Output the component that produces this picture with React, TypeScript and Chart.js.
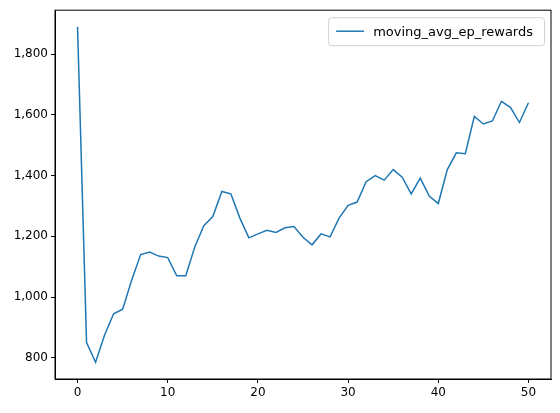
import { useEffect, useRef } from 'react'
import { Chart, registerables } from 'chart.js'

Chart.register(...registerables)

const episodes = Array.from({ length: 51 }, (_, i) => i)
const movingAvg = [
  1890, 850, 785, 875, 945, 960, 1055, 1140, 1148, 1135, 1130, 1070, 1070, 1165, 1235, 1265, 1348,
  1340, 1260, 1195, 1208, 1220, 1213, 1228, 1232, 1197, 1172, 1208, 1198, 1260, 1302, 1313, 1380,
  1400, 1385, 1420, 1395, 1340, 1392, 1333, 1308, 1420, 1475, 1472, 1595, 1570, 1580, 1645, 1625,
  1575, 1640,
]
const xTicks = [0, 10, 20, 30, 40, 50]
const yTicks = [800, 1000, 1200, 1400, 1600, 1800]
const seriesLabel = 'moving_avg_ep_rewards'
const lineColor = '#1f77b4'
const font = 'DejaVu Sans'

// matplotlib-style legend in the top right corner of the plot area
const boxLegend = {
  id: 'boxLegend',
  afterDraw(chart: Chart) {
    const { ctx, chartArea } = chart
    ctx.save()
    ctx.font = `13px "${font}"`
    const tw = ctx.measureText(seriesLabel).width
    const w = tw + 56
    const h = 28
    const x = chartArea.right - w - 7
    const y = chartArea.top + 7
    ctx.fillStyle = 'rgba(255,255,255,0.8)'
    ctx.strokeStyle = '#d0d0d0'
    ctx.lineWidth = 1
    ctx.beginPath()
    ctx.roundRect(x + 0.5, y + 0.5, w, h, 3)
    ctx.fill()
    ctx.stroke()
    ctx.strokeStyle = lineColor
    ctx.lineWidth = 1.5
    ctx.beginPath()
    ctx.moveTo(x + 8, y + h / 2)
    ctx.lineTo(x + 36, y + h / 2)
    ctx.stroke()
    ctx.fillStyle = '#000'
    ctx.textBaseline = 'middle'
    ctx.fillText(seriesLabel, x + 45, y + h / 2 + 1)
    ctx.restore()
  },
}

export default function App() {
  const canvasRef = useRef<HTMLCanvasElement>(null)

  useEffect(() => {
    if (!canvasRef.current) return
    const chart = new Chart(canvasRef.current, {
      type: 'line',
      data: {
        datasets: [
          {
            label: seriesLabel,
            data: episodes.map((e, i) => ({ x: e, y: movingAvg[i] })),
            borderColor: lineColor,
            borderWidth: 1.5,
            pointRadius: 0,
            tension: 0,
          },
        ],
      },
      options: {
        responsive: false,
        animation: false,
        layout: { padding: { top: 10, right: 9, left: 0, bottom: 0 } },
        plugins: { legend: { display: false }, tooltip: { enabled: false } },
        scales: {
          x: {
            type: 'linear',
            min: -2.5,
            max: 52.5,
            afterBuildTicks: (s: any) => { s.ticks = xTicks.map((v) => ({ value: v })) },
            afterFit: (s: any) => { s.height = 34 },
            grid: { drawOnChartArea: false, tickLength: 4, color: '#000' },
            border: { color: '#000', width: 1 },
            ticks: { color: '#000', font: { family: font, size: 12 }, padding: 3, maxRotation: 0 },
          },
          y: {
            min: 730,
            max: 1945,
            afterBuildTicks: (s: any) => { s.ticks = yTicks.map((v) => ({ value: v })) },
            afterFit: (s: any) => { s.width = 55 },
            grid: { drawOnChartArea: false, tickLength: 4, color: '#000' },
            border: { color: '#000', width: 1 },
            ticks: { color: '#000', font: { family: font, size: 12 }, padding: 3 },
          },
        },
      },
      plugins: [
        boxLegend,
        {
          id: 'frame',
          afterDraw(c: Chart) {
            const { ctx, chartArea: a } = c
            ctx.save()
            ctx.strokeStyle = '#000'
            ctx.lineWidth = 1
            ctx.strokeRect(a.left, a.top, a.right - a.left, a.bottom - a.top)
            ctx.restore()
          },
        },
      ],
    })
    return () => chart.destroy()
  }, [])

  return (
    <div style={{ position: 'absolute', left: 0, top: 0, width: 560, height: 413, background: '#fff' }}>
      <canvas ref={canvasRef} width={560} height={413} />
    </div>
  )
}
